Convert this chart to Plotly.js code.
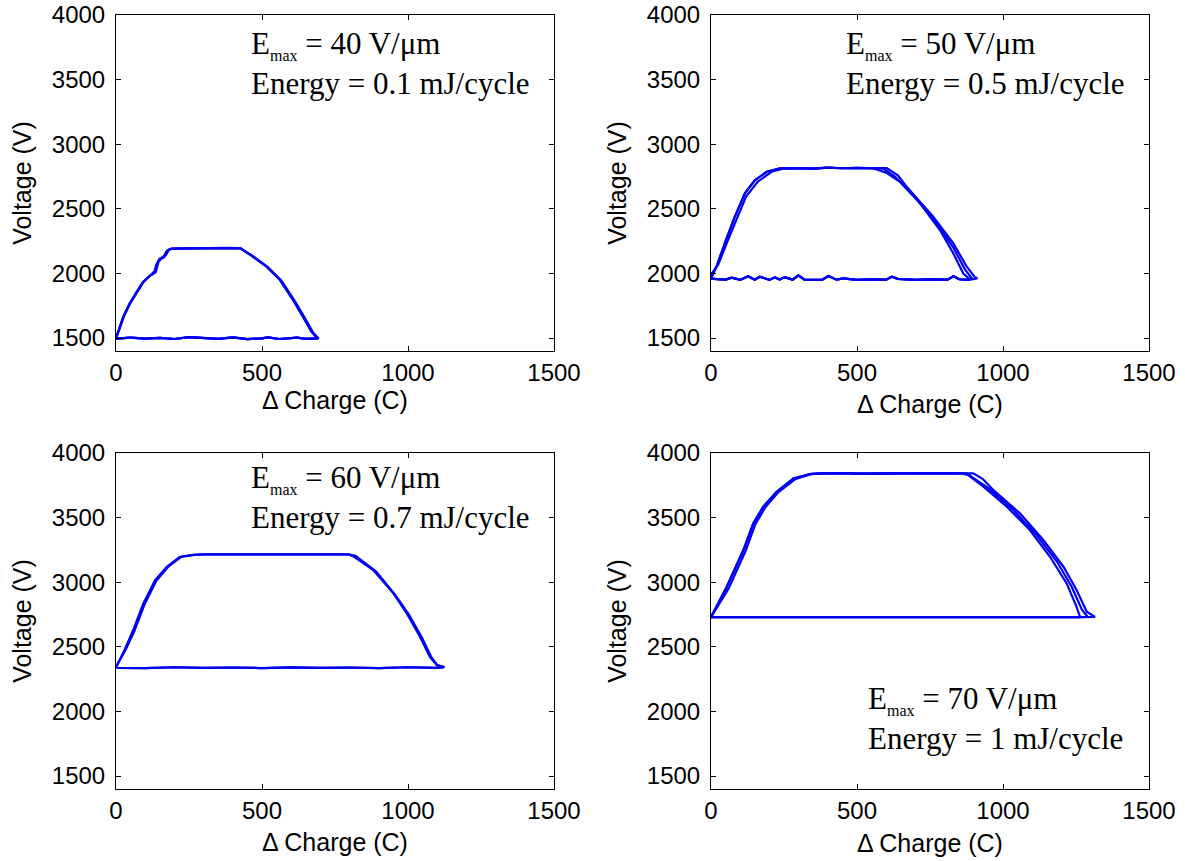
<!DOCTYPE html>
<html><head><meta charset="utf-8">
<script src="https://cdn.plot.ly/plotly-3.0.1.min.js"></script>
<style>html,body{margin:0;padding:0;background:#fff}#plot{width:1185px;height:861px}</style>
</head><body><div id="plot"></div>
<script>
// ---------- Data ----------
const xTicks = [0, 500, 1000, 1500];
const yTicks = [1500, 2000, 2500, 3000, 3500, 4000];

// Panel 1: Emax = 40 V/um
const p1_riseA_q = [0, 10, 25, 48, 71, 94, 116, 134, 140, 152, 165, 178, 190];
const p1_riseA_v = [1500, 1560, 1665, 1770, 1858, 1936, 1982, 2013, 2075, 2118, 2125, 2180, 2192];
const p1_riseB_q = [0, 12, 28, 50, 74, 96, 118, 136, 146, 158, 170, 182, 195];
const p1_riseB_v = [1495, 1565, 1672, 1775, 1862, 1940, 1985, 2010, 2092, 2124, 2140, 2186, 2193];
const p1_riseC_q = [0, 9, 24, 46, 70, 92, 114, 132, 137, 148, 160, 174, 188];
const p1_riseC_v = [1505, 1555, 1660, 1765, 1855, 1932, 1978, 2016, 2060, 2108, 2118, 2175, 2190];
const p1_plat_q = [230, 280, 330, 380, 425];
const p1_plat_v = [2194, 2196, 2195, 2198, 2196];
const p1_fallA_q = [470, 516, 562, 607, 641, 670, 690];
const p1_fallA_v = [2129, 2052, 1949, 1794, 1665, 1549, 1498];
const p1_fallB_q = [474, 520, 566, 611, 645, 674, 694];
const p1_fallB_v = [2127, 2050, 1946, 1792, 1662, 1546, 1497];
const p1_bot_q = [650, 620, 600, 560, 520, 500, 450, 400, 350, 300, 250, 200, 150, 100, 50, 0];
const p1_bot_v = [1494, 1503, 1500, 1493, 1506, 1498, 1492, 1505, 1494, 1499, 1508, 1493, 1502, 1495, 1503, 1496];

// Panel 2: Emax = 50 V/um
const p2_riseA_q = [0, 20, 50, 80, 116, 150, 191, 236];
const p2_riseA_v = [1960, 2060, 2250, 2430, 2620, 2720, 2787, 2813];
const p2_riseB_q = [0, 25, 55, 85, 120, 160, 210, 250];
const p2_riseB_v = [1990, 2070, 2240, 2410, 2595, 2710, 2790, 2812];
const p2_plat_q = [300, 350, 400, 450, 500, 555];
const p2_plat_v = [2815, 2812, 2819, 2814, 2817, 2815];
const p2_fallA_q = [600, 647, 716, 784, 830, 864, 887];
const p2_fallA_v = [2780, 2710, 2543, 2336, 2155, 2000, 1954];
const p2_fallB_q = [602, 640, 670, 761, 830, 876, 904, 912];
const p2_fallB_v = [2815, 2760, 2671, 2439, 2233, 2052, 1970, 1962];
const p2_fallC_q = [590, 630, 690, 770, 830, 870, 895];
const p2_fallC_v = [2812, 2750, 2610, 2400, 2200, 2030, 1958];
const p2_bot_q = [880, 850, 830, 810, 750, 700, 640, 619, 600, 550, 500, 453, 430, 402, 380, 320, 299, 280, 253, 235, 219, 200, 167, 150, 127, 100, 71, 50, 30, 0];
const p2_bot_v = [1950, 1955, 1978, 1952, 1955, 1950, 1958, 1975, 1952, 1955, 1950, 1962, 1952, 1980, 1950, 1952, 1985, 1952, 1972, 1953, 1970, 1950, 1975, 1952, 1978, 1950, 1968, 1952, 1955, 1960];

// Panel 3: Emax = 60 V/um
const p3_riseA_q = [0, 30, 59, 94, 134, 174, 219, 265, 300];
const p3_riseA_v = [2340, 2480, 2630, 2837, 3017, 3120, 3197, 3211, 3215];
const p3_riseB_q = [0, 33, 63, 98, 138, 178, 222, 268, 302];
const p3_riseB_v = [2345, 2478, 2622, 2830, 3012, 3118, 3195, 3212, 3215];
const p3_plat_q = [400, 500, 600, 700, 796];
const p3_plat_v = [3215, 3214, 3216, 3215, 3216];
const p3_fallA_q = [813, 881, 950, 996, 1041, 1075, 1098, 1121];
const p3_fallA_v = [3200, 3094, 2914, 2759, 2578, 2423, 2359, 2341];
const p3_fallB_q = [820, 890, 955, 1003, 1048, 1080, 1100, 1125];
const p3_fallB_v = [3205, 3085, 2905, 2750, 2570, 2420, 2360, 2343];
const p3_bot_q = [1100, 1000, 900, 800, 700, 600, 500, 400, 300, 200, 100, 0];
const p3_bot_v = [2338, 2342, 2336, 2340, 2338, 2341, 2336, 2340, 2338, 2342, 2336, 2338];

// Panel 4: Emax = 70 V/um
const p4_riseA_q = [0, 54, 111, 145, 179, 225, 282, 339, 380];
const p4_riseA_v = [2730, 2965, 3249, 3456, 3584, 3700, 3803, 3837, 3843];
const p4_riseB_q = [0, 60, 118, 152, 186, 232, 290, 345, 385];
const p4_riseB_v = [2730, 2950, 3240, 3450, 3580, 3700, 3800, 3838, 3843];
const p4_plat_q = [450, 500, 600, 700, 800, 853];
const p4_plat_v = [3845, 3840, 3843, 3842, 3845, 3843];
const p4_fallA_q = [880, 933, 1013, 1092, 1161, 1218, 1252, 1264];
const p4_fallA_v = [3830, 3739, 3584, 3404, 3197, 2991, 2810, 2731];
const p4_fallB_q = [898, 930, 967, 1058, 1138, 1207, 1252, 1287, 1315];
const p4_fallB_v = [3843, 3800, 3714, 3533, 3327, 3120, 2940, 2772, 2731];
const p4_fallC_q = [875, 950, 1035, 1115, 1185, 1235, 1270, 1290];
const p4_fallC_v = [3843, 3728, 3560, 3365, 3158, 2965, 2790, 2731];
const p4_bot_q = [1260, 1000, 700, 400, 100, 0];
const p4_bot_v = [2730, 2730, 2731, 2730, 2730, 2730];

const SUB = '<sub><span style="font-size:16px">max</span></sub>';
const labels = [
  {l1: 'E' + SUB + ' = 40 V/μm', l2: 'Energy = 0.1 mJ/cycle'},
  {l1: 'E' + SUB + ' = 50 V/μm', l2: 'Energy = 0.5 mJ/cycle'},
  {l1: 'E' + SUB + ' = 60 V/μm', l2: 'Energy = 0.7 mJ/cycle'},
  {l1: 'E' + SUB + ' = 70 V/μm', l2: 'Energy = 1 mJ/cycle'}
];

// ---------- Build loops ----------
function loop(rq, rv, pq, pv, fq, fv, bq, bv) {
  return {q: [].concat(rq, pq, fq, bq), v: [].concat(rv, pv, fv, bv)};
}
const panels = [
  [loop(p1_riseA_q, p1_riseA_v, p1_plat_q, p1_plat_v, p1_fallA_q, p1_fallA_v, p1_bot_q, p1_bot_v),
   loop(p1_riseB_q, p1_riseB_v, p1_plat_q, p1_plat_v, p1_fallB_q, p1_fallB_v, p1_bot_q, p1_bot_v),
   loop(p1_riseC_q, p1_riseC_v, p1_plat_q, p1_plat_v, p1_fallA_q, p1_fallA_v, p1_bot_q, p1_bot_v)],
  [loop(p2_riseA_q, p2_riseA_v, p2_plat_q, p2_plat_v, p2_fallA_q, p2_fallA_v, p2_bot_q, p2_bot_v),
   loop(p2_riseB_q, p2_riseB_v, p2_plat_q, p2_plat_v, p2_fallB_q, p2_fallB_v, p2_bot_q, p2_bot_v),
   loop(p2_riseA_q, p2_riseA_v, p2_plat_q, p2_plat_v, p2_fallC_q, p2_fallC_v, p2_bot_q, p2_bot_v)],
  [loop(p3_riseA_q, p3_riseA_v, p3_plat_q, p3_plat_v, p3_fallA_q, p3_fallA_v, p3_bot_q, p3_bot_v),
   loop(p3_riseB_q, p3_riseB_v, p3_plat_q, p3_plat_v, p3_fallB_q, p3_fallB_v, p3_bot_q, p3_bot_v)],
  [loop(p4_riseA_q, p4_riseA_v, p4_plat_q, p4_plat_v, p4_fallA_q, p4_fallA_v, p4_bot_q, p4_bot_v),
   loop(p4_riseB_q, p4_riseB_v, p4_plat_q, p4_plat_v, p4_fallB_q, p4_fallB_v, p4_bot_q, p4_bot_v),
   loop(p4_riseA_q, p4_riseA_v, p4_plat_q, p4_plat_v, p4_fallC_q, p4_fallC_v, p4_bot_q, p4_bot_v)]
];

const traces = [];
panels.forEach((cycles, i) => {
  const ax = i === 0 ? '' : String(i + 1);
  cycles.forEach(c => traces.push({
    x: c.q, y: c.v, xaxis: 'x' + ax, yaxis: 'y' + ax,
    type: 'scatter', mode: 'lines', line: {color: '#0000f0', width: 2.2},
    showlegend: false, hoverinfo: 'skip'
  }));
});

const W = 1185, H = 861;
const colX = [[116 / W, 554 / W], [711 / W, 1149 / W]];
const rowY = [[1 - 351 / H, 1 - 15 / H], [1 - 789 / H, 1 - 453 / H]];
const sans = 'Liberation Sans, Arial, sans-serif';
const tickFont = {family: sans, size: 24, color: '#000'};
const xStandoff = [0, 10, 10, 11];
const layout = {
  width: W, height: H,
  margin: {l: 0, r: 0, t: 0, b: 0},
  paper_bgcolor: '#fff', plot_bgcolor: '#fff',
  showlegend: false,
  annotations: []
};
// x position (data) and the boundary between the two text lines (data)
const annPos = [
  {x: 460, yb: 3613},
  {x: 460, yb: 3613},
  {x: 460, yb: 3644},
  {x: 535, yb: 1933}
];
for (let i = 0; i < 4; i++) {
  const ax = i === 0 ? '' : String(i + 1);
  const col = i % 2, row = Math.floor(i / 2);
  layout['xaxis' + ax] = {
    domain: colX[col], range: [0, 1500], tickvals: xTicks, ticktext: xTicks.map(String),
    anchor: 'y' + ax, showline: true, linecolor: '#000', linewidth: 1, mirror: 'ticks',
    ticks: 'inside', ticklen: 5, tickcolor: '#000', showgrid: false, zeroline: false,
    tickfont: tickFont, fixedrange: true,
    title: {text: 'Δ Charge (C)', font: {family: sans, size: 25, color: '#000'}, standoff: xStandoff[i]}
  };
  layout['yaxis' + ax] = {
    domain: rowY[row], range: [1400, 4000], tickvals: yTicks, ticktext: yTicks.map(String),
    anchor: 'x' + ax, showline: true, linecolor: '#000', linewidth: 1, mirror: 'ticks',
    ticks: 'inside', ticklen: 5, tickcolor: '#000', showgrid: false, zeroline: false,
    tickfont: tickFont, fixedrange: true, ticklabelstandoff: 5,
    title: {text: 'Voltage (V)', font: {family: sans, size: 25, color: '#000'}, standoff: 13}
  };
  const f = {family: 'Liberation Serif, Times New Roman, serif', size: 31, color: '#000'};
  layout.annotations.push({xref: 'x' + ax, yref: 'y' + ax, x: annPos[i].x, y: annPos[i].yb,
    text: labels[i].l1, showarrow: false, xanchor: 'left', yanchor: 'bottom', borderpad: 0, font: f});
  layout.annotations.push({xref: 'x' + ax, yref: 'y' + ax, x: annPos[i].x, y: annPos[i].yb,
    text: labels[i].l2, showarrow: false, xanchor: 'left', yanchor: 'top', borderpad: 0, font: f});
}
Plotly.newPlot('plot', traces, layout, {displayModeBar: false, staticPlot: true});
</script></body></html>
